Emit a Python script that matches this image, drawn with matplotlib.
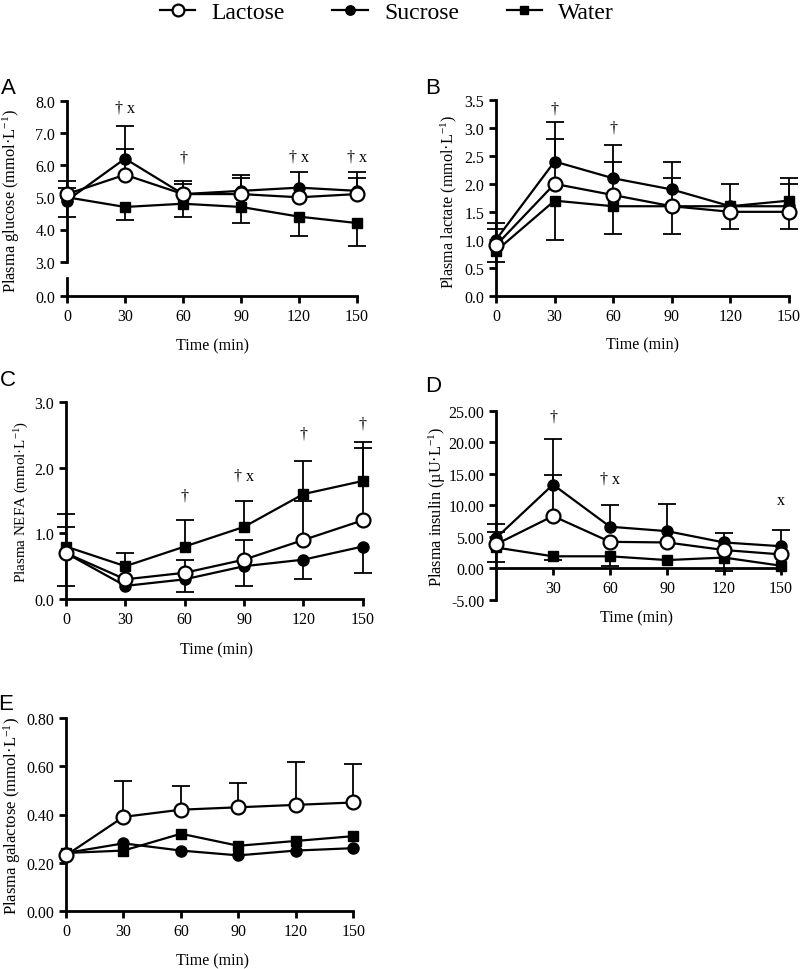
import numpy as np
import matplotlib.pyplot as plt
from matplotlib.ticker import FormatStrFormatter

plt.rcParams['font.family'] = ['Liberation Serif', 'DejaVu Serif']
plt.rcParams['mathtext.default'] = 'regular'
plt.rcParams['axes.unicode_minus'] = False

time = [0, 30, 60, 90, 120, 150]
groups = ['Lactose', 'Sucrose', 'Water']

# errors are one-sided: positive = bar drawn upward, negative = downward
# A - glucose
glu_lac = [5.1, 5.7, 5.1, 5.1, 5.0, 5.1]
glu_lac_err = [0.2, 0.8, 0.3, 0.5, 0, 0.5]
glu_suc = [4.9, 6.2, 5.1, 5.2, 5.3, 5.2]
glu_suc_err = [0.6, 1.0, 0.4, 0.5, 0.5, 0.6]
glu_wat = [5.0, 4.7, 4.8, 4.7, 4.4, 4.2]
glu_wat_err = [-0.6, -0.4, -0.4, -0.5, -0.6, -0.7]

# B - lactate
lact_lac = [0.9, 2.0, 1.8, 1.6, 1.5, 1.5]
lact_lac_err = [0.3, 0.8, 0.6, 0.5, -0.3, -0.3]
lact_suc = [1.0, 2.4, 2.1, 1.9, 1.6, 1.6]
lact_suc_err = [0.3, 0.7, 0.6, 0.5, 0.4, 0.4]
lact_wat = [0.8, 1.7, 1.6, 1.6, 1.6, 1.7]
lact_wat_err = [-0.2, -0.7, -0.5, -0.5, 0, 0.4]

# C - NEFA
nefa_lac = [0.7, 0.3, 0.4, 0.6, 0.9, 1.2]
nefa_lac_err = [0.4, 0, 0.2, 0.3, 0.6, 1.1]
nefa_suc = [0.7, 0.2, 0.3, 0.5, 0.6, 0.8]
nefa_suc_err = [-0.5, 0, -0.2, -0.3, -0.3, -0.4]
nefa_wat = [0.8, 0.5, 0.8, 1.1, 1.6, 1.8]
nefa_wat_err = [0.5, 0.2, 0.4, 0.4, 0.5, 0.6]

# D - insulin
ins_lac = [3.8, 8.3, 4.2, 4.1, 2.9, 2.2]
ins_lac_err = [1.9, 6.6, 0, 0, 0, 0]
ins_suc = [4.8, 13.3, 6.6, 5.9, 4.1, 3.5]
ins_suc_err = [2.2, 7.3, 3.4, 4.3, 1.5, 2.6]
ins_wat = [3.3, 1.9, 1.9, 1.3, 1.7, 0.4]
ins_wat_err = [-2.3, -0.6, -1.5, 0, -2.2, 0]

# E - galactose
gal_lac = [0.23, 0.39, 0.42, 0.43, 0.44, 0.45]
gal_lac_err = [0, 0.15, 0.10, 0.10, 0.18, 0.16]
gal_suc = [0.24, 0.28, 0.25, 0.23, 0.25, 0.26]
gal_suc_err = [0, 0, 0, 0, 0, 0]
gal_wat = [0.24, 0.25, 0.32, 0.27, 0.29, 0.31]
gal_wat_err = [0, 0, 0, 0, 0, 0]

W, H = 800, 970
fig = plt.figure(figsize=(W / 100, H / 100), dpi=100)


def axes_px(l, t, r, b):
    return fig.add_axes([l / W, 1 - b / H, (r - l) / W, (b - t) / H])


def style(ax, bottom=True):
    for s in ['top', 'right']:
        ax.spines[s].set_visible(False)
    ax.spines['left'].set_linewidth(2)
    ax.spines['bottom'].set_linewidth(2)
    if not bottom:
        ax.spines['bottom'].set_visible(False)
    ax.tick_params(direction='out', length=5, width=2, labelsize=11.5)
    ax.set_xlim(0, 150)


marker_styles = [dict(marker='o', mfc='white', ms=10, mew=1.6, zorder=5),
                 dict(marker='o', mfc='black', ms=8, mew=1, zorder=4),
                 dict(marker='s', mfc='black', ms=7.5, mew=1, zorder=3)]


def draw(ax, series, errs):
    t = np.array(time)
    lines = []
    for y, e, st in zip(series, errs, marker_styles):
        y = np.array(y)
        e = np.array(e)
        m = e != 0
        ax.vlines(t[m], y[m], y[m] + e[m], color='black', lw=1.3, zorder=2, clip_on=False)
        ax.plot(t[m], y[m] + e[m], ls='none', marker='_', ms=13, mew=1.3,
                color='black', zorder=2, clip_on=False)
        ln, = ax.plot(t, y, color='black', lw=1.6, mec='black', clip_on=False, **st)
        lines.append(ln)
    return lines


def annotate(ax, items):
    for x, y, s in items:
        ax.text(x, y, s, ha='center', va='center', fontsize=11.5)


def ylabel(x, y, s, size):
    fig.text(x / W, 1 - y / H, s, rotation=90, ha='center', va='center', fontsize=size)


def xlabel(x, y):
    fig.text(x / W, 1 - y / H, 'Time (min)', ha='center', va='center', fontsize=11.5)


# ---- A (broken y axis)
axA = axes_px(67, 101.7, 357, 262.7)
axA0 = axes_px(67, 279, 357, 296.7)
style(axA, bottom=False)
style(axA0)
axA.set_ylim(3, 8)
axA.set_yticks(np.arange(3, 8.1, 1))
axA.yaxis.set_major_formatter(FormatStrFormatter('%.1f'))
axA.set_xticks([])
axA0.set_ylim(0, 0.55)
axA0.set_yticks([0])
axA0.yaxis.set_major_formatter(FormatStrFormatter('%.1f'))
axA0.set_xticks(time)
handles = draw(axA, [glu_lac, glu_suc, glu_wat], [glu_lac_err, glu_suc_err, glu_wat_err])
annotate(axA, [(30, 7.78, '† x'), (60, 6.24, '†'), (120, 6.27, '† x'), (150, 6.27, '† x')])
ylabel(11, 201, r'Plasma glucose (mmol·L$^{-1}$)', 11.8)
xlabel(212, 346)

# ---- B
axB = axes_px(496, 101, 789, 296.7)
style(axB)
axB.set_ylim(0, 3.5)
axB.set_yticks(np.arange(0, 3.51, 0.5))
axB.yaxis.set_major_formatter(FormatStrFormatter('%.1f'))
axB.set_xticks(time)
draw(axB, [lact_lac, lact_suc, lact_wat], [lact_lac_err, lact_suc_err, lact_wat_err])
annotate(axB, [(30, 3.35, '†'), (60, 3.0, '†')])
ylabel(449, 202, r'Plasma lactate (mmol·L$^{-1}$)', 11.6)
xlabel(643, 345)

# ---- C
axC = axes_px(66, 403.3, 362.7, 600)
style(axC)
axC.set_ylim(0, 3)
axC.set_yticks([0, 1, 2, 3])
axC.yaxis.set_major_formatter(FormatStrFormatter('%.1f'))
axC.set_xticks(time)
draw(axC, [nefa_lac, nefa_suc, nefa_wat], [nefa_lac_err, nefa_suc_err, nefa_wat_err])
annotate(axC, [(60, 1.58, '†'), (90, 1.88, '† x'), (120, 2.52, '†'), (150, 2.67, '†')])
ylabel(22, 502, r'Plasma NEFA (mmol·L$^{-1}$)', 10.8)
xlabel(217, 650)

# ---- D (x axis crosses at zero)
axD = axes_px(496, 412, 781, 600.7)
style(axD)
axD.spines['bottom'].set_position(('data', 0))
axD.set_ylim(-5, 25)
axD.set_yticks(np.arange(-5, 25.1, 5))
axD.yaxis.set_major_formatter(FormatStrFormatter('%.2f'))
axD.set_xticks(time[1:])
draw(axD, [ins_lac, ins_suc, ins_wat], [ins_lac_err, ins_suc_err, ins_wat_err])
annotate(axD, [(30, 24.2, '†'), (60, 14.3, '† x'), (150, 10.9, 'x')])
ylabel(437, 507, r'Plasma insulin (µU·L$^{-1}$)', 11.7)
xlabel(637, 618)

# ---- E
axE = axes_px(66, 719.3, 353.3, 911.7)
style(axE)
axE.set_ylim(0, 0.8)
axE.set_yticks(np.arange(0, 0.81, 0.2))
axE.yaxis.set_major_formatter(FormatStrFormatter('%.2f'))
axE.set_xticks(time)
draw(axE, [gal_lac, gal_suc, gal_wat], [gal_lac_err, gal_suc_err, gal_wat_err])
ylabel(12, 816, r'Plasma galactose (mmol·L$^{-1}$)', 12)
xlabel(212, 961)

# panel letters
for s, x, y in [('A', 8, 89), ('B', 433, 88), ('C', 8, 381), ('D', 433, 387), ('E', 6, 705)]:
    fig.text(x / W, 1 - y / H, s, ha='center', va='center', fontsize=16,
             family='Liberation Sans')

fig.legend(handles, groups, loc='center', bbox_to_anchor=(387 / W, 1 - 13 / H), ncol=3,
           frameon=False, fontsize=17, handlelength=1.5, handletextpad=0.7,
           columnspacing=2.0, markerscale=0.85)

fig.savefig('out.png', dpi=100)
